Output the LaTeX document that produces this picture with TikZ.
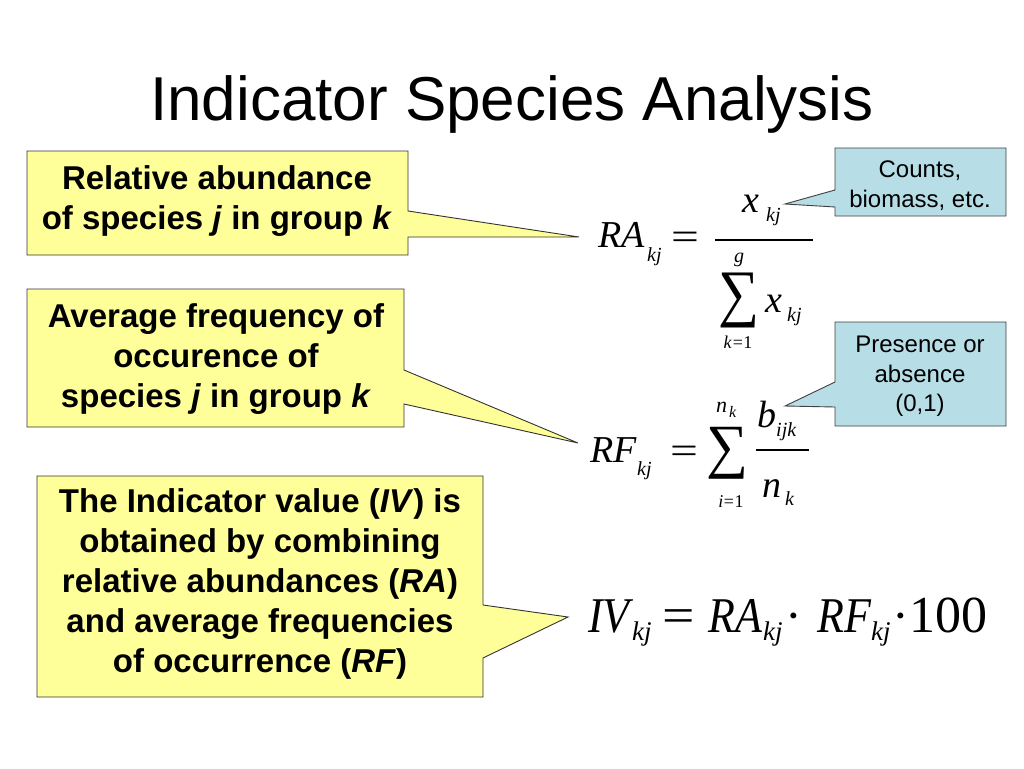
\documentclass[tikz,border=0pt]{standalone}
\usepackage{fontspec}
\setmainfont{Liberation Sans}
\newfontfamily\tms{Liberation Serif}
\usepackage{graphicx}
\definecolor{callyel}{HTML}{FFFF99}
\definecolor{callblu}{HTML}{B7DDE6}
\newcommand\nrw[1]{\scalebox{0.88}[1]{#1}}
\begin{document}
\begin{tikzpicture}[x=1pt,y=-1pt,
  yel/.style={fill=callyel,draw=black!80,line width=0.9pt,line join=miter},
  blu/.style={fill=callblu,draw=black!75,line width=0.9pt,line join=miter},
  bt/.style={anchor=base,inner sep=0,font=\bfseries\fontsize{33}{40}\selectfont},
  nt/.style={anchor=base,inner sep=0,font=\fontsize{24}{30}\selectfont},
  mi/.style={anchor=base west,inner sep=0,font=\tms\itshape\fontsize{38}{38}\selectfont},
  ms/.style={anchor=base west,inner sep=0,font=\tms\itshape\fontsize{20}{20}\selectfont},
  mss/.style={anchor=base west,inner sep=0,font=\tms\itshape\fontsize{16}{16}\selectfont},
  mr/.style={anchor=base,inner sep=0,font=\tms\fontsize{38}{38}\selectfont},
  lim/.style={anchor=base,inner sep=0,font=\tms\fontsize{18}{18}\selectfont},
  bi/.style={anchor=base west,inner sep=0,font=\tms\itshape\fontsize{50}{50}\selectfont},
  bs/.style={anchor=base west,inner sep=0,font=\tms\itshape\fontsize{27}{27}\selectfont},
  br/.style={anchor=base,inner sep=0,font=\tms\fontsize{50}{50}\selectfont},
  bar/.style={line width=1.3pt}]
\useasboundingbox[fill=white] (0,0) rectangle (1024,768);

% title
\node[anchor=base,inner sep=0,font=\fontsize{62}{62}\selectfont] (title) at (512,120) {Indicator Species Analysis};

% yellow callouts
\draw[yel] (27,151) -- (408,151) -- (408,211) -- (579,237) -- (408,237) -- (408,255) -- (27,255) -- cycle;
\node[bt] (ra1) at (217,189) {Relative abundance};
\node[bt] (ra2) at (217,229) {of species \textit{j} in group \textit{k}};

\draw[yel] (27,289) -- (404,289) -- (404,370) -- (578,443) -- (404,404) -- (404,427) -- (27,427) -- cycle;
\node[bt] (rf1) at (216,327) {Average frequency of};
\node[bt] (rf2) at (216,367) {occurence of};
\node[bt] (rf3) at (216,407) {species \textit{j} in group \textit{k}};

\draw[yel] (37,476) -- (483,476) -- (483,605) -- (568,617) -- (483,658) -- (483,697) -- (37,697) -- cycle;
\node[bt] (iv1) at (260,512) {The Indicator value (\textit{IV}) is};
\node[bt] (iv2) at (260,552) {obtained by combining};
\node[bt] (iv3) at (260,592) {relative abundances (\textit{RA})};
\node[bt] (iv4) at (260,632) {and average frequencies};
\node[bt] (iv5) at (260,672) {of occurrence (\textit{RF})};

% blue callouts
\draw[blu] (835,148) -- (1006,148) -- (1006,216) -- (835,216) -- (835,207) -- (785,204) -- (835,190) -- cycle;
\node[nt] (c1) at (920,177) {Counts,};
\node[nt] (c2) at (920,207) {biomass, etc.};

\draw[blu] (835,322) -- (1006,322) -- (1006,426) -- (835,426) -- (835,407) -- (785,406) -- (835,382) -- cycle;
\node[nt] (p1) at (920,352) {Presence or};
\node[nt] (p2) at (920,382) {absence};
\node[nt] (p3) at (920,411) {(0,1)};

% RA equation
\node[mi] (raL) at (598,247) {RA};
\node[ms] (raLs) at (647,261) {kj};
\node[mr] (raEq) at (685,249) {\scalebox{1.3}[1]{=}};
\coordinate (raB1) at (715,240);
\coordinate (raB2) at (813,240);
\draw[bar] (raB1) -- (raB2);
\node[mi] (raN) at (742,212) {x};
\node[ms] (raNs) at (766,221) {kj};
\node[anchor=north west,inner sep=0] (raSum) at (718,273) {\resizebox*{41pt}{55pt}{\tms ∑}};
\node[anchor=base,inner sep=0,font=\tms\itshape\fontsize{20}{20}\selectfont] (raG) at (739,262) {g};
\node[lim] (raK) at (738,348) {\textit{k}\kern1pt=\kern0.5pt1};
\node[mi] (raD) at (765,312) {x};
\node[ms] (raDs) at (787,321) {kj};

% RF equation
\node[mi] (rfL) at (590,462) {RF};
\node[ms] (rfLs) at (637,475) {kj};
\node[mr] (rfEq) at (684,463) {\scalebox{1.3}[1]{=}};
\node[anchor=north west,inner sep=0] (rfSum) at (706,427) {\resizebox*{42pt}{52pt}{\tms ∑}};
\node[anchor=base west,inner sep=0,font=\tms\itshape\fontsize{22}{22}\selectfont] (rfTop) at (716,412) {n};
\node[mss] (rfTops) at (729,417) {k};
\node[lim] (rfI) at (731,507) {\textit{i}\kern0.5pt=\kern0.5pt1};
\coordinate (rfB1) at (756,450);
\coordinate (rfB2) at (809,450);
\draw[bar] (rfB1) -- (rfB2);
\node[mi] (rfN) at (757,427) {b};
\node[ms] (rfNs) at (776,436) {ijk};
\node[mi] (rfD) at (762,497) {n};
\node[ms] (rfDs) at (785,505) {k};

% IV equation
\node[bi] (ivL) at (588,632) {\nrw{IV}};
\node[bs] (ivLs) at (632,640) {kj};
\node[br] (ivEq) at (679,632) {\scalebox{1.15}[1]{=}};
\node[bi] (ivRA) at (708,632) {\nrw{RA}};
\node[bs] (ivRAs) at (763,640) {kj};
\node[br] (ivD1) at (794,632) {·};
\node[bi] (ivRF) at (817,632) {\nrw{RF}};
\node[bs] (ivRFs) at (871,640) {kj};
\node[br] (ivD2) at (901,632) {·};
\node[anchor=base west,inner sep=0,font=\tms\fontsize{52}{52}\selectfont] (iv100) at (909,632) {100};
\end{tikzpicture}
\end{document}
